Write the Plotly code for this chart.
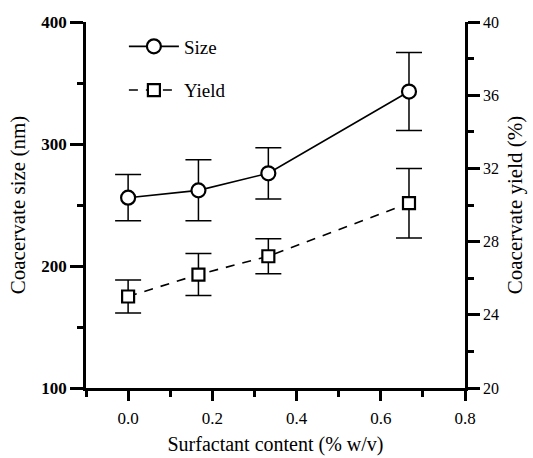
import plotly.graph_objects as go

surfactant = [0.0, 0.167, 0.333, 0.667]
size_nm = [256, 262, 276, 343]
size_err = [19, 25, 21, 32]
yield_pct = [25.0, 26.2, 27.2, 30.1]
yield_err = [0.9, 1.15, 0.95, 1.9]

FONT = "Liberation Serif"

fig = go.Figure()
fig.add_trace(go.Scatter(
    x=surfactant, y=size_nm, name="Size", mode="lines+markers",
    line=dict(color="black", width=1.6),
    marker=dict(symbol="circle", size=14, color="white", line=dict(color="black", width=2.2)),
    error_y=dict(type="data", array=size_err, color="black", thickness=1.5, width=13),
    legendgroup="a",
))
fig.add_trace(go.Scatter(
    x=surfactant, y=yield_pct, name="Yield", mode="lines+markers", yaxis="y2",
    line=dict(color="black", width=1.6, dash="9px,8px"),
    marker=dict(symbol="square", size=12, color="white", line=dict(color="black", width=2.2)),
    error_y=dict(type="data", array=yield_err, color="black", thickness=1.5, width=13),
    legendgroup="b",
))

fig.update_layout(
    width=533, height=458,
    margin=dict(l=86, r=68, t=22, b=70),
    plot_bgcolor="white", paper_bgcolor="white",
    font=dict(family=FONT, color="black", size=17),
    showlegend=True,
    legend=dict(x=0.1, y=0.985, xanchor="left", yanchor="top", bgcolor="rgba(0,0,0,0)",
                font=dict(family=FONT, size=19), tracegroupgap=16, itemwidth=50),
    xaxis=dict(
        range=[-0.1, 0.8], tickvals=[0.0, 0.2, 0.4, 0.6, 0.8],
        ticktext=["0.0", "0.2", "0.4", "0.6", "0.8"], automargin=False,
        showline=True, linecolor="black", linewidth=2.5, showgrid=False, zeroline=False,
        ticks="outside", ticklen=10, tickwidth=2.5, tickcolor="black",
        minor=dict(tickvals=[-0.1, 0.1, 0.3, 0.5, 0.7], ticks="outside", ticklen=6, tickwidth=2.5, tickcolor="black"),
        tickfont=dict(family=FONT, size=17), ticklabelstandoff=3,
        title=dict(text="Surfactant content (% w/v)", font=dict(family=FONT, size=20), standoff=10),
    ),
    yaxis=dict(
        range=[100, 400], tickvals=[100, 200, 300, 400], automargin=False,
        showline=True, linecolor="black", linewidth=2.5, showgrid=False, zeroline=False,
        ticks="outside", ticklen=13, tickwidth=2.5, tickcolor="black",
        minor=dict(tickvals=[150, 250, 350], ticks="outside", ticklen=6, tickwidth=2.5, tickcolor="black"),
        tickfont=dict(family=FONT, size=17, weight="bold"),
        title=dict(text="Coacervate size (nm)", font=dict(family=FONT, size=21), standoff=10),
    ),
    yaxis2=dict(
        range=[20, 40], tickvals=[20, 24, 28, 32, 36, 40], overlaying="y", side="right", automargin=False,
        showline=True, linecolor="black", linewidth=2.5, showgrid=False, zeroline=False,
        ticks="outside", ticklen=12, tickwidth=2.5, tickcolor="black",
        minor=dict(tickvals=[22, 26, 30, 34, 38], ticks="outside", ticklen=6, tickwidth=2.5, tickcolor="black"),
        tickfont=dict(family=FONT, size=16),
        title=dict(text="Coacervate yield (%)", font=dict(family=FONT, size=21), standoff=10),
    ),
)

fig.write_html("out.html")
